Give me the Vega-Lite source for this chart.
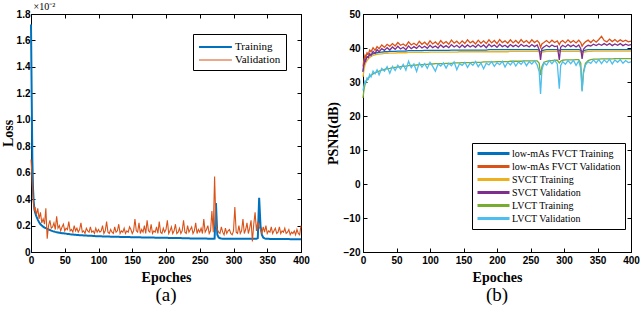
{
  "$schema": "https://vega.github.io/schema/vega-lite/v6.json",
  "background": "white",
  "padding": {"left": 0, "top": 0, "right": 0, "bottom": 0},
  "spacing": 15,
  "resolve": {"scale": {"color": "independent", "strokeWidth": "independent"}, "legend": {"color": "independent"}},
  "config": {
    "view": {"stroke": "black", "strokeWidth": 1},
    "axis": {
      "grid": false,
      "domainColor": "black",
      "domainWidth": 1,
      "tickColor": "black",
      "tickSize": -4,
      "labelPadding": 7,
      "labelFlush": false,
      "labelFont": "Liberation Sans",
      "labelFontWeight": "bold",
      "labelFontSize": 10,
      "labelColor": "black",
      "titleFont": "Liberation Serif",
      "titleFontSize": 14,
      "titleFontWeight": "bold",
      "titleColor": "black"
    },
    "legend": {
      "strokeColor": "black",
      "fillColor": "white",
      "cornerRadius": 0,
      "labelFont": "Liberation Serif",
      "labelColor": "black",
      "title": null,
      "rowPadding": 0,
      "labelLimit": 300
    },
    "title": {"font": "Liberation Serif", "fontSize": 19, "fontWeight": "normal", "color": "black"}
  },
  "hconcat": [
    {
      "width": 270,
      "height": 238,
      "title": {"text": "(a)", "orient": "bottom", "offset": 2},
      "data": {"values": [
        {"ep":0,"Training":1.72,"Validation":0.70},
        {"ep":1,"Training":1.2,"Validation":0.62},
        {"ep":2,"Training":0.7,"Validation":0.5},
        {"ep":3,"Training":0.48,"Validation":0.42},
        {"ep":4,"Training":0.38,"Validation":0.36},
        {"ep":5,"Training":0.33,"Validation":0.31},
        {"ep":6,"Training":0.3,"Validation":0.34},
        {"ep":8,"Training":0.27,"Validation":0.28},
        {"ep":10,"Training":0.245,"Validation":0.33},
        {"ep":12,"Training":0.225,"Validation":0.25},
        {"ep":14,"Training":0.21,"Validation":0.3},
        {"ep":16,"Training":0.2,"Validation":0.22},
        {"ep":18,"Training":0.192,"Validation":0.25},
        {"ep":20,"Training":0.185,"Validation":0.21},
        {"ep":22,"Training":0.18,"Validation":0.33},
        {"ep":24,"Training":0.175,"Validation":0.1},
        {"ep":26,"Training":0.17,"Validation":0.2},
        {"ep":28,"Training":0.166,"Validation":0.24},
        {"ep":30,"Training":0.162,"Validation":0.18},
        {"ep":32,"Training":0.158,"Validation":0.19},
        {"ep":34,"Training":0.155,"Validation":0.22},
        {"ep":36,"Training":0.152,"Validation":0.17},
        {"ep":38,"Training":0.15,"Validation":0.27},
        {"ep":40,"Training":0.148,"Validation":0.18},
        {"ep":42,"Training":0.146,"Validation":0.2},
        {"ep":44,"Training":0.144,"Validation":0.16},
        {"ep":46,"Training":0.142,"Validation":0.19},
        {"ep":48,"Training":0.141,"Validation":0.21},
        {"ep":50,"Training":0.14,"Validation":0.16},
        {"ep":52,"Training":0.139,"Validation":0.18},
        {"ep":54,"Training":0.137,"Validation":0.17},
        {"ep":56,"Training":0.136,"Validation":0.23},
        {"ep":58,"Training":0.134,"Validation":0.16},
        {"ep":60,"Training":0.133,"Validation":0.17},
        {"ep":62,"Training":0.132,"Validation":0.15},
        {"ep":64,"Training":0.131,"Validation":0.2},
        {"ep":66,"Training":0.13,"Validation":0.16},
        {"ep":68,"Training":0.129,"Validation":0.18},
        {"ep":70,"Training":0.128,"Validation":0.15},
        {"ep":72,"Training":0.127,"Validation":0.17},
        {"ep":74,"Training":0.127,"Validation":0.22},
        {"ep":76,"Training":0.126,"Validation":0.15},
        {"ep":78,"Training":0.125,"Validation":0.16},
        {"ep":80,"Training":0.125,"Validation":0.14},
        {"ep":82,"Training":0.124,"Validation":0.18},
        {"ep":84,"Training":0.123,"Validation":0.16},
        {"ep":86,"Training":0.123,"Validation":0.15},
        {"ep":88,"Training":0.122,"Validation":0.19},
        {"ep":90,"Training":0.122,"Validation":0.15},
        {"ep":92,"Training":0.121,"Validation":0.16},
        {"ep":94,"Training":0.121,"Validation":0.14},
        {"ep":96,"Training":0.12,"Validation":0.18},
        {"ep":98,"Training":0.12,"Validation":0.15},
        {"ep":100,"Training":0.12,"Validation":0.17},
        {"ep":102,"Training":0.119,"Validation":0.15},
        {"ep":104,"Training":0.119,"Validation":0.16},
        {"ep":106,"Training":0.118,"Validation":0.2},
        {"ep":108,"Training":0.118,"Validation":0.14},
        {"ep":110,"Training":0.118,"Validation":0.16},
        {"ep":112,"Training":0.117,"Validation":0.23},
        {"ep":114,"Training":0.117,"Validation":0.15},
        {"ep":116,"Training":0.117,"Validation":0.14},
        {"ep":118,"Training":0.116,"Validation":0.17},
        {"ep":120,"Training":0.116,"Validation":0.15},
        {"ep":122,"Training":0.116,"Validation":0.14},
        {"ep":124,"Training":0.115,"Validation":0.19},
        {"ep":126,"Training":0.115,"Validation":0.15},
        {"ep":128,"Training":0.115,"Validation":0.16},
        {"ep":130,"Training":0.115,"Validation":0.21},
        {"ep":132,"Training":0.114,"Validation":0.14},
        {"ep":134,"Training":0.114,"Validation":0.16},
        {"ep":136,"Training":0.114,"Validation":0.15},
        {"ep":138,"Training":0.114,"Validation":0.18},
        {"ep":140,"Training":0.113,"Validation":0.14},
        {"ep":142,"Training":0.113,"Validation":0.16},
        {"ep":144,"Training":0.113,"Validation":0.15},
        {"ep":146,"Training":0.113,"Validation":0.19},
        {"ep":148,"Training":0.112,"Validation":0.17},
        {"ep":150,"Training":0.112,"Validation":0.14},
        {"ep":152,"Training":0.112,"Validation":0.16},
        {"ep":154,"Training":0.112,"Validation":0.25},
        {"ep":156,"Training":0.111,"Validation":0.16},
        {"ep":158,"Training":0.111,"Validation":0.15},
        {"ep":160,"Training":0.111,"Validation":0.22},
        {"ep":162,"Training":0.111,"Validation":0.14},
        {"ep":164,"Training":0.11,"Validation":0.17},
        {"ep":166,"Training":0.11,"Validation":0.15},
        {"ep":168,"Training":0.11,"Validation":0.2},
        {"ep":170,"Training":0.11,"Validation":0.14},
        {"ep":172,"Training":0.11,"Validation":0.24},
        {"ep":174,"Training":0.109,"Validation":0.16},
        {"ep":176,"Training":0.109,"Validation":0.15},
        {"ep":178,"Training":0.109,"Validation":0.21},
        {"ep":180,"Training":0.109,"Validation":0.14},
        {"ep":182,"Training":0.109,"Validation":0.16},
        {"ep":184,"Training":0.108,"Validation":0.15},
        {"ep":186,"Training":0.108,"Validation":0.19},
        {"ep":188,"Training":0.108,"Validation":0.14},
        {"ep":190,"Training":0.108,"Validation":0.23},
        {"ep":192,"Training":0.108,"Validation":0.15},
        {"ep":194,"Training":0.107,"Validation":0.14},
        {"ep":196,"Training":0.107,"Validation":0.18},
        {"ep":198,"Training":0.107,"Validation":0.15},
        {"ep":200,"Training":0.107,"Validation":0.17},
        {"ep":202,"Training":0.107,"Validation":0.24},
        {"ep":204,"Training":0.106,"Validation":0.14},
        {"ep":206,"Training":0.106,"Validation":0.16},
        {"ep":208,"Training":0.106,"Validation":0.19},
        {"ep":210,"Training":0.106,"Validation":0.14},
        {"ep":212,"Training":0.106,"Validation":0.16},
        {"ep":214,"Training":0.105,"Validation":0.21},
        {"ep":216,"Training":0.105,"Validation":0.14},
        {"ep":218,"Training":0.105,"Validation":0.15},
        {"ep":220,"Training":0.105,"Validation":0.18},
        {"ep":222,"Training":0.105,"Validation":0.14},
        {"ep":224,"Training":0.104,"Validation":0.16},
        {"ep":226,"Training":0.104,"Validation":0.24},
        {"ep":228,"Training":0.104,"Validation":0.15},
        {"ep":230,"Training":0.104,"Validation":0.14},
        {"ep":232,"Training":0.104,"Validation":0.2},
        {"ep":234,"Training":0.104,"Validation":0.15},
        {"ep":236,"Training":0.103,"Validation":0.17},
        {"ep":238,"Training":0.103,"Validation":0.19},
        {"ep":240,"Training":0.103,"Validation":0.14},
        {"ep":242,"Training":0.103,"Validation":0.16},
        {"ep":244,"Training":0.103,"Validation":0.22},
        {"ep":246,"Training":0.103,"Validation":0.14},
        {"ep":248,"Training":0.102,"Validation":0.17},
        {"ep":250,"Training":0.102,"Validation":0.15},
        {"ep":252,"Training":0.102,"Validation":0.18},
        {"ep":254,"Training":0.102,"Validation":0.14},
        {"ep":256,"Training":0.102,"Validation":0.25},
        {"ep":258,"Training":0.102,"Validation":0.15},
        {"ep":260,"Training":0.102,"Validation":0.17},
        {"ep":262,"Training":0.101,"Validation":0.2},
        {"ep":264,"Training":0.101,"Validation":0.14},
        {"ep":266,"Training":0.101,"Validation":0.16},
        {"ep":268,"Training":0.101,"Validation":0.31},
        {"ep":270,"Training":0.101,"Validation":0.15},
        {"ep":272,"Training":0.102,"Validation":0.57},
        {"ep":274,"Training":0.37,"Validation":0.2},
        {"ep":276,"Training":0.13,"Validation":0.17},
        {"ep":278,"Training":0.11,"Validation":0.15},
        {"ep":280,"Training":0.104,"Validation":0.14},
        {"ep":282,"Training":0.102,"Validation":0.19},
        {"ep":284,"Training":0.101,"Validation":0.15},
        {"ep":286,"Training":0.1,"Validation":0.13},
        {"ep":288,"Training":0.101,"Validation":0.18},
        {"ep":290,"Training":0.1,"Validation":0.14},
        {"ep":292,"Training":0.1,"Validation":0.16},
        {"ep":294,"Training":0.1,"Validation":0.17},
        {"ep":296,"Training":0.1,"Validation":0.14},
        {"ep":298,"Training":0.1,"Validation":0.13},
        {"ep":300,"Training":0.1,"Validation":0.16},
        {"ep":302,"Training":0.1,"Validation":0.34},
        {"ep":304,"Training":0.1,"Validation":0.15},
        {"ep":306,"Training":0.1,"Validation":0.14},
        {"ep":308,"Training":0.1,"Validation":0.2},
        {"ep":310,"Training":0.1,"Validation":0.14},
        {"ep":312,"Training":0.1,"Validation":0.16},
        {"ep":314,"Training":0.1,"Validation":0.25},
        {"ep":316,"Training":0.1,"Validation":0.14},
        {"ep":318,"Training":0.1,"Validation":0.17},
        {"ep":320,"Training":0.1,"Validation":0.22},
        {"ep":322,"Training":0.1,"Validation":0.14},
        {"ep":324,"Training":0.1,"Validation":0.18},
        {"ep":326,"Training":0.1,"Validation":0.24},
        {"ep":328,"Training":0.1,"Validation":0.08},
        {"ep":330,"Training":0.1,"Validation":0.21},
        {"ep":332,"Training":0.1,"Validation":0.3},
        {"ep":334,"Training":0.1,"Validation":0.16},
        {"ep":336,"Training":0.105,"Validation":0.23},
        {"ep":338,"Training":0.41,"Validation":0.19},
        {"ep":340,"Training":0.2,"Validation":0.17},
        {"ep":342,"Training":0.13,"Validation":0.14},
        {"ep":344,"Training":0.11,"Validation":0.19},
        {"ep":346,"Training":0.103,"Validation":0.15},
        {"ep":348,"Training":0.1,"Validation":0.2},
        {"ep":350,"Training":0.1,"Validation":0.14},
        {"ep":352,"Training":0.1,"Validation":0.16},
        {"ep":354,"Training":0.099,"Validation":0.15},
        {"ep":356,"Training":0.099,"Validation":0.19},
        {"ep":358,"Training":0.099,"Validation":0.14},
        {"ep":360,"Training":0.099,"Validation":0.16},
        {"ep":362,"Training":0.099,"Validation":0.18},
        {"ep":364,"Training":0.099,"Validation":0.14},
        {"ep":366,"Training":0.098,"Validation":0.15},
        {"ep":368,"Training":0.098,"Validation":0.19},
        {"ep":370,"Training":0.098,"Validation":0.14},
        {"ep":372,"Training":0.098,"Validation":0.16},
        {"ep":374,"Training":0.098,"Validation":0.15},
        {"ep":376,"Training":0.098,"Validation":0.18},
        {"ep":378,"Training":0.098,"Validation":0.14},
        {"ep":380,"Training":0.098,"Validation":0.15},
        {"ep":382,"Training":0.098,"Validation":0.17},
        {"ep":384,"Training":0.097,"Validation":0.13},
        {"ep":386,"Training":0.097,"Validation":0.15},
        {"ep":388,"Training":0.097,"Validation":0.14},
        {"ep":390,"Training":0.097,"Validation":0.16},
        {"ep":392,"Training":0.097,"Validation":0.13},
        {"ep":394,"Training":0.097,"Validation":0.17},
        {"ep":396,"Training":0.097,"Validation":0.14},
        {"ep":398,"Training":0.097,"Validation":0.13},
        {"ep":400,"Training":0.097,"Validation":0.2}
      ]},
      "transform": [{"fold": ["Training", "Validation"], "as": ["series", "loss"]}],
      "layer": [
        {
          "mark": {"type": "line"},
          "encoding": {
            "x": {"field": "ep", "type": "quantitative", "scale": {"domain": [0, 400]},
                  "axis": {"values": [0,50,100,150,200,250,300,350,400], "title": "Epoches", "titlePadding": 5}},
            "y": {"field": "loss", "type": "quantitative", "scale": {"domain": [0, 1.8]},
                  "axis": {"values": [0,0.2,0.4,0.6,0.8,1.0,1.2,1.4,1.6,1.8], "title": "Loss", "titlePadding": 1, "labelPadding": 5,
                           "labelExpr": "datum.value == 0 ? '0' : format(datum.value, '.1f')"}},
            "color": {"field": "series", "type": "nominal",
                      "scale": {"domain": ["Training", "Validation"], "range": ["#0072BD", "#D95319"]},
                      "legend": {"orient": "none", "legendX": 162, "legendY": 20, "labelFontSize": 11,
                                 "symbolType": "M-1,0H3.7", "symbolSize": 196, "symbolStrokeWidth": 2,
                                 "labelOffset": 21, "padding": 5}},
            "strokeWidth": {"field": "series", "type": "nominal",
                            "scale": {"domain": ["Training", "Validation"], "range": [2, 1.1]}, "legend": null}
          }
        },
        {
          "mark": {"type": "line", "strokeOpacity": 0},
          "encoding": {
            "x": {"field": "ep", "type": "quantitative",
                  "axis": {"orient": "top", "labels": false, "values": [0,50,100,150,200,250,300,350,400],
                           "title": "×10⁻²", "titleFontWeight": "normal", "titleFontSize": 10,
                           "titleAnchor": "start", "titleAlign": "left", "titleX": 2, "titleY": -3, "titleBaseline": "bottom"}},
            "y": {"field": "loss", "type": "quantitative",
                  "axis": {"orient": "right", "labels": false, "title": null, "values": [0,0.2,0.4,0.6,0.8,1.0,1.2,1.4,1.6,1.8]}}
          }
        }
      ],
      "resolve": {"axis": {"x": "independent", "y": "independent"}}
    },
    {
      "width": 268,
      "height": 238,
      "title": {"text": "(b)", "orient": "bottom", "offset": 2},
      "data": {"values": [
        {"ep":0,"a":33,"b":34.5,"c":31.5,"d":33,"e":25.3,"f":27.5},
        {"ep":1,"a":34.5,"b":36,"c":33,"d":34.8,"e":27,"f":28.5},
        {"ep":2,"a":35.5,"b":37,"c":34.2,"d":35.5,"e":28.3,"f":29.6},
        {"ep":3,"a":36.2,"b":37.8,"c":35,"d":36.8,"e":29.2,"f":30.2},
        {"ep":4,"a":36.7,"b":37.3,"c":35.6,"d":36.2,"e":29.8,"f":29.8},
        {"ep":6,"a":37.2,"b":38.6,"c":36.3,"d":37.5,"e":30.6,"f":31.2},
        {"ep":8,"a":37.6,"b":38.2,"c":36.8,"d":37.2,"e":31.2,"f":30.8},
        {"ep":10,"a":37.9,"b":39.4,"c":37.2,"d":38.3,"e":31.6,"f":32.2},
        {"ep":12,"a":38.1,"b":38.9,"c":37.5,"d":37.8,"e":32,"f":31.5},
        {"ep":15,"a":38.3,"b":40.1,"c":37.8,"d":39,"e":32.4,"f":33.2},
        {"ep":18,"a":38.5,"b":39.3,"c":38,"d":38.4,"e":32.7,"f":32.4},
        {"ep":21,"a":38.6,"b":40.4,"c":38.1,"d":39.5,"e":33,"f":33.6},
        {"ep":24,"a":38.7,"b":39.8,"c":38.2,"d":38.9,"e":33.2,"f":32.1},
        {"ep":28,"a":38.8,"b":40.9,"c":38.3,"d":39.8,"e":33.5,"f":34},
        {"ep":32,"a":38.9,"b":40.2,"c":38.4,"d":39.3,"e":33.7,"f":33.2},
        {"ep":36,"a":38.9,"b":41.1,"c":38.4,"d":40.1,"e":33.9,"f":34.5},
        {"ep":40,"a":39,"b":40.5,"c":38.5,"d":39.4,"e":34,"f":32.6},
        {"ep":44,"a":39,"b":41.3,"c":38.5,"d":40.3,"e":34.2,"f":34.6},
        {"ep":48,"a":39,"b":40.6,"c":38.5,"d":39.6,"e":34.3,"f":33.4},
        {"ep":52,"a":39.1,"b":41.6,"c":38.6,"d":40.5,"e":34.4,"f":34.9},
        {"ep":56,"a":39.1,"b":40.8,"c":38.6,"d":39.7,"e":34.5,"f":33.8},
        {"ep":60,"a":39.1,"b":41.2,"c":38.6,"d":40.2,"e":34.6,"f":35.2},
        {"ep":64,"a":39.1,"b":40.6,"c":38.6,"d":39.5,"e":34.7,"f":33.5},
        {"ep":68,"a":39.2,"b":41.8,"c":38.7,"d":40.6,"e":34.8,"f":36.1},
        {"ep":72,"a":39.2,"b":40.9,"c":38.7,"d":39.8,"e":34.9,"f":34.2},
        {"ep":76,"a":39.2,"b":41.4,"c":38.7,"d":40.4,"e":34.9,"f":35.3},
        {"ep":80,"a":39.2,"b":40.8,"c":38.7,"d":39.9,"e":35,"f":33.1},
        {"ep":84,"a":39.2,"b":42,"c":38.7,"d":40.7,"e":35.1,"f":35.6},
        {"ep":88,"a":39.2,"b":41.1,"c":38.7,"d":40,"e":35.1,"f":34.4},
        {"ep":92,"a":39.3,"b":41.7,"c":38.7,"d":40.5,"e":35.2,"f":35.4},
        {"ep":96,"a":39.3,"b":40.9,"c":38.7,"d":39.9,"e":35.2,"f":34},
        {"ep":100,"a":39.3,"b":42.1,"c":38.8,"d":40.8,"e":35.3,"f":35.8},
        {"ep":104,"a":39.3,"b":41.2,"c":38.8,"d":40.1,"e":35.3,"f":34.6},
        {"ep":108,"a":39.3,"b":41.8,"c":38.8,"d":40.6,"e":35.4,"f":33.2},
        {"ep":112,"a":39.3,"b":41,"c":38.8,"d":40,"e":35.4,"f":35.3},
        {"ep":116,"a":39.3,"b":42.2,"c":38.8,"d":40.9,"e":35.4,"f":34.7},
        {"ep":120,"a":39.3,"b":41.3,"c":38.8,"d":40.2,"e":35.4,"f":35.6},
        {"ep":124,"a":39.3,"b":41.9,"c":38.8,"d":40.7,"e":35.5,"f":34.1},
        {"ep":128,"a":39.3,"b":41.1,"c":38.8,"d":40.1,"e":35.5,"f":35.5},
        {"ep":132,"a":39.4,"b":42.3,"c":38.8,"d":41,"e":35.5,"f":34.8},
        {"ep":136,"a":39.4,"b":41.4,"c":38.8,"d":40.3,"e":35.6,"f":35.9},
        {"ep":140,"a":39.4,"b":42,"c":38.8,"d":40.8,"e":35.6,"f":33.6},
        {"ep":144,"a":39.4,"b":41.2,"c":38.9,"d":40.1,"e":35.6,"f":35.4},
        {"ep":148,"a":39.4,"b":42.1,"c":38.9,"d":40.9,"e":35.7,"f":34.9},
        {"ep":152,"a":39.4,"b":41.3,"c":38.9,"d":40.2,"e":35.7,"f":35.8},
        {"ep":156,"a":39.4,"b":42.4,"c":38.9,"d":40.9,"e":35.7,"f":34.3},
        {"ep":160,"a":39.4,"b":41.5,"c":38.9,"d":40.3,"e":35.7,"f":35.6},
        {"ep":164,"a":39.4,"b":42,"c":38.9,"d":40.8,"e":35.8,"f":34.9},
        {"ep":168,"a":39.4,"b":41.2,"c":38.9,"d":40.2,"e":35.8,"f":36},
        {"ep":172,"a":39.4,"b":42.3,"c":38.9,"d":41,"e":35.8,"f":34.5},
        {"ep":176,"a":39.4,"b":41.4,"c":38.9,"d":40.3,"e":35.8,"f":35.6},
        {"ep":180,"a":39.4,"b":42.1,"c":38.9,"d":40.9,"e":35.9,"f":33.9},
        {"ep":184,"a":39.4,"b":41.3,"c":38.9,"d":40.1,"e":35.9,"f":35.5},
        {"ep":188,"a":39.5,"b":42.4,"c":38.9,"d":41.1,"e":35.9,"f":35},
        {"ep":192,"a":39.5,"b":41.5,"c":38.9,"d":40.4,"e":35.9,"f":36},
        {"ep":196,"a":39.5,"b":42.2,"c":38.9,"d":40.9,"e":35.9,"f":34.6},
        {"ep":200,"a":39.5,"b":41.3,"c":38.9,"d":40.2,"e":36,"f":35.7},
        {"ep":204,"a":39.5,"b":42.5,"c":38.9,"d":41.1,"e":36,"f":35.1},
        {"ep":208,"a":39.5,"b":41.6,"c":38.9,"d":40.4,"e":36,"f":36.1},
        {"ep":212,"a":39.5,"b":42.1,"c":38.9,"d":40.8,"e":36,"f":34.4},
        {"ep":216,"a":39.5,"b":41.4,"c":38.9,"d":40.2,"e":36,"f":35.8},
        {"ep":220,"a":39.5,"b":42.4,"c":39,"d":41,"e":36.1,"f":35},
        {"ep":224,"a":39.5,"b":41.5,"c":39,"d":40.4,"e":36.1,"f":36.1},
        {"ep":228,"a":39.5,"b":42.2,"c":39,"d":40.9,"e":36.1,"f":34.7},
        {"ep":232,"a":39.5,"b":41.4,"c":39,"d":40.3,"e":36.1,"f":35.9},
        {"ep":236,"a":39.5,"b":42.5,"c":39,"d":41.1,"e":36.1,"f":35.2},
        {"ep":240,"a":39.5,"b":41.6,"c":39,"d":40.5,"e":36.2,"f":36.2},
        {"ep":244,"a":39.5,"b":42.2,"c":39,"d":40.8,"e":36.2,"f":34.8},
        {"ep":248,"a":39.5,"b":41.4,"c":39,"d":40.3,"e":36.2,"f":36},
        {"ep":252,"a":39.5,"b":42.4,"c":39,"d":41,"e":36.2,"f":35.3},
        {"ep":256,"a":39.5,"b":41.6,"c":39,"d":40.4,"e":36.2,"f":36.2},
        {"ep":260,"a":39.5,"b":42.2,"c":39,"d":40.9,"e":36.2,"f":35},
        {"ep":263,"a":39.4,"b":41.5,"c":38.9,"d":39.5,"e":35.5,"f":33},
        {"ep":265,"a":38.6,"b":40.2,"c":38.5,"d":36.5,"e":32,"f":26.5},
        {"ep":267,"a":39.2,"b":41.2,"c":38.8,"d":39.8,"e":34.5,"f":33.5},
        {"ep":270,"a":39.4,"b":41.6,"c":38.9,"d":40.3,"e":35.8,"f":35.6},
        {"ep":274,"a":39.5,"b":42.2,"c":39,"d":40.8,"e":36.1,"f":35},
        {"ep":278,"a":39.5,"b":41.5,"c":39,"d":40.3,"e":36.3,"f":36.3},
        {"ep":282,"a":39.5,"b":42.3,"c":39,"d":40.9,"e":36.3,"f":35.4},
        {"ep":286,"a":39.5,"b":41.6,"c":39,"d":40.4,"e":36.4,"f":36.4},
        {"ep":290,"a":39.5,"b":42.1,"c":39,"d":40.6,"e":36.4,"f":35.3},
        {"ep":293,"a":39.3,"b":41,"c":38.9,"d":36.5,"e":35.6,"f":28},
        {"ep":295,"a":39.5,"b":41.8,"c":39,"d":40.2,"e":36.1,"f":34.8},
        {"ep":298,"a":39.5,"b":42.2,"c":39,"d":40.8,"e":36.4,"f":36},
        {"ep":302,"a":39.5,"b":41.5,"c":39,"d":40.3,"e":36.5,"f":35.2},
        {"ep":306,"a":39.5,"b":42.4,"c":39,"d":41,"e":36.5,"f":36.3},
        {"ep":310,"a":39.5,"b":41.6,"c":39,"d":40.4,"e":36.5,"f":35.4},
        {"ep":314,"a":39.5,"b":42.2,"c":39,"d":40.9,"e":36.5,"f":36.4},
        {"ep":318,"a":39.5,"b":41.5,"c":39,"d":40.3,"e":36.6,"f":34.9},
        {"ep":322,"a":39.5,"b":42.3,"c":39,"d":40.9,"e":36.6,"f":36.2},
        {"ep":325,"a":39.4,"b":41.6,"c":38.9,"d":39.8,"e":35.5,"f":34},
        {"ep":327,"a":38.8,"b":40.5,"c":38.6,"d":36.8,"e":27.5,"f":27.2},
        {"ep":329,"a":39.2,"b":41.2,"c":38.8,"d":39.6,"e":33,"f":32.5},
        {"ep":332,"a":39.4,"b":41.8,"c":38.9,"d":40.3,"e":35.5,"f":35},
        {"ep":336,"a":39.5,"b":42.3,"c":39,"d":40.8,"e":36.3,"f":36},
        {"ep":340,"a":39.5,"b":41.6,"c":39,"d":40.6,"e":36.6,"f":35.5},
        {"ep":344,"a":39.5,"b":42.4,"c":39.1,"d":41.1,"e":36.7,"f":36.5},
        {"ep":348,"a":39.5,"b":41.7,"c":39.1,"d":40.7,"e":36.7,"f":35.6},
        {"ep":352,"a":39.5,"b":42.5,"c":39.1,"d":41.2,"e":36.7,"f":36.6},
        {"ep":356,"a":39.5,"b":43.4,"c":39.1,"d":40.8,"e":36.8,"f":35.4},
        {"ep":360,"a":39.5,"b":42.2,"c":39.1,"d":41.3,"e":36.8,"f":36.5},
        {"ep":364,"a":39.5,"b":41.8,"c":39.1,"d":40.8,"e":36.8,"f":35.7},
        {"ep":368,"a":39.5,"b":42.6,"c":39.1,"d":41.3,"e":36.8,"f":36.7},
        {"ep":372,"a":39.5,"b":41.9,"c":39.1,"d":40.7,"e":36.8,"f":35.3},
        {"ep":376,"a":39.5,"b":42.5,"c":39.1,"d":41.2,"e":36.9,"f":36.5},
        {"ep":380,"a":39.5,"b":41.8,"c":39.1,"d":40.8,"e":36.9,"f":35.8},
        {"ep":384,"a":39.5,"b":42.4,"c":39.1,"d":41.3,"e":36.9,"f":36.6},
        {"ep":388,"a":39.5,"b":41.9,"c":39.1,"d":40.7,"e":36.9,"f":35.5},
        {"ep":392,"a":39.5,"b":42.3,"c":39.1,"d":41.1,"e":36.9,"f":36.3},
        {"ep":396,"a":39.5,"b":41.8,"c":39.1,"d":40.8,"e":36.9,"f":35.7},
        {"ep":400,"a":39.5,"b":42,"c":39.1,"d":41,"e":36.9,"f":35.9}
      ]},
      "transform": [{"fold": ["a", "b", "c", "d", "e", "f"], "as": ["series", "psnr"]}],
      "layer": [
        {
          "mark": {"type": "line", "strokeWidth": 1.3},
          "encoding": {
            "x": {"field": "ep", "type": "quantitative", "scale": {"domain": [0, 400]},
                  "axis": {"values": [0,50,100,150,200,250,300,350,400], "title": "Epoches", "titlePadding": 5}},
            "y": {"field": "psnr", "type": "quantitative", "scale": {"domain": [-20, 50]},
                  "axis": {"values": [-20,-10,0,10,20,30,40,50], "title": "PSNR(dB)", "titlePadding": 3}},
            "color": {"field": "series", "type": "nominal",
                      "scale": {"domain": ["a","b","c","d","e","f"],
                                "range": ["#0072BD", "#D95319", "#EDB120", "#7E2F8E", "#77AC30", "#4DBEEE"]},
                      "legend": {"orient": "none", "legendX": 109, "legendY": 129, "labelFontSize": 10,
                                 "symbolType": "M-1,0H5.4", "symbolSize": 100, "symbolStrokeWidth": 3,
                                 "labelOffset": 23, "padding": 4,
                                 "labelExpr": "{'a':'low-mAs FVCT Training','b':'low-mAs FVCT Validation','c':'SVCT Training','d':'SVCT Validation','e':'LVCT Training','f':'LVCT Validation'}[datum.label]"}}
          }
        },
        {
          "mark": {"type": "line", "strokeOpacity": 0},
          "encoding": {
            "x": {"field": "ep", "type": "quantitative",
                  "axis": {"orient": "top", "labels": false, "title": null, "values": [0,50,100,150,200,250,300,350,400]}},
            "y": {"field": "psnr", "type": "quantitative",
                  "axis": {"orient": "right", "labels": false, "title": null, "values": [-20,-10,0,10,20,30,40,50]}}
          }
        }
      ],
      "resolve": {"axis": {"x": "independent", "y": "independent"}}
    }
  ]
}
